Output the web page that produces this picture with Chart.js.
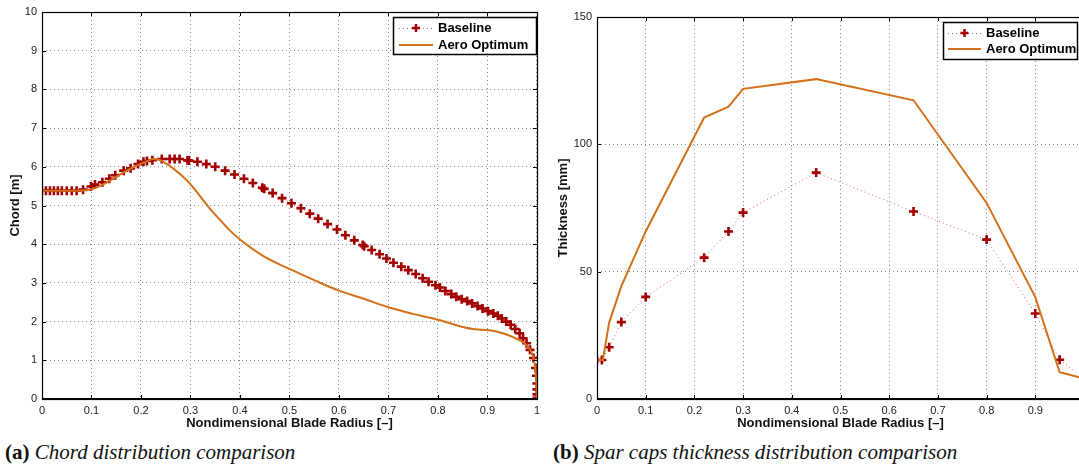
<!DOCTYPE html>
<html>
<head>
<meta charset="utf-8">
<script src="https://cdn.jsdelivr.net/npm/chart.js@4.4.1/dist/chart.umd.min.js"></script>
<style>
  html, body { margin:0; padding:0; background:#fff; width:1079px; height:467px; overflow:hidden; position:relative; }
  canvas { position:absolute; }
  #c1 { left:0; top:0; }
  #c2 { left:545px; top:0; }
  .cap { position:absolute; top:440px; font-family:"Liberation Serif","DejaVu Serif",serif; font-size:21px; color:#111; white-space:nowrap; }
  .cap b { font-weight:bold; }
  .cap i { font-style:italic; }
</style>
</head>
<body>
<canvas id="c1" width="545" height="440"></canvas>
<canvas id="c2" width="560" height="440"></canvas>
<div class="cap" style="left:5px;"><b>(a)</b> <i>Chord distribution comparison</i></div>
<div class="cap" style="left:553px;"><b>(b)</b> <i>Spar caps thickness distribution comparison</i></div>
<script>
// ---------- DATA ----------
const seriesNames = ["Baseline", "Aero Optimum"];

// (a) Chord distribution
const chordBaseX = [0,0.008,0.016,0.024,0.032,0.04,0.05,0.06,0.07,0.083,0.099,0.107,0.122,0.136,0.148,0.165,0.179,0.194,0.205,0.212,0.223,0.242,0.258,0.268,0.278,0.294,0.297,0.314,0.332,0.35,0.37,0.389,0.408,0.426,0.445,0.449,0.466,0.485,0.504,0.523,0.541,0.558,0.577,0.596,0.613,0.631,0.648,0.651,0.666,0.682,0.696,0.71,0.726,0.74,0.755,0.769,0.781,0.795,0.804,0.815,0.827,0.837,0.848,0.859,0.869,0.88,0.89,0.901,0.912,0.921,0.929,0.938,0.947,0.956,0.965,0.972,0.979,0.986,0.993,0.997,0.999,1.0,1.0,1.0,1.0];
const chordBaseY = [5.38,5.38,5.38,5.38,5.38,5.38,5.38,5.38,5.38,5.41,5.49,5.54,5.6,5.69,5.78,5.9,5.96,6.07,6.13,6.15,6.17,6.2,6.2,6.2,6.2,6.17,6.16,6.13,6.07,6.0,5.9,5.8,5.69,5.58,5.46,5.43,5.32,5.19,5.06,4.93,4.79,4.66,4.52,4.38,4.23,4.1,3.98,3.95,3.85,3.74,3.63,3.52,3.42,3.33,3.23,3.12,3.03,2.94,2.88,2.79,2.71,2.64,2.58,2.53,2.47,2.4,2.34,2.27,2.21,2.15,2.08,2.0,1.92,1.81,1.7,1.57,1.44,1.27,1.06,0.8,0.6,0.4,0.25,0.12,0.03];
const chordAeroX = [0,0.05,0.08,0.1,0.12,0.14,0.16,0.18,0.2,0.215,0.225,0.235,0.245,0.255,0.265,0.28,0.3,0.32,0.343,0.364,0.38,0.4,0.45,0.5,0.55,0.6,0.65,0.7,0.75,0.8,0.85,0.875,0.9,0.92,0.94,0.96,0.975,0.985,0.992,0.996,0.999,1.0];
const chordAeroY = [5.38,5.38,5.385,5.42,5.52,5.66,5.82,5.96,6.08,6.16,6.2,6.19,6.13,6.05,5.96,5.8,5.55,5.23,4.86,4.57,4.35,4.12,3.67,3.36,3.07,2.8,2.59,2.37,2.2,2.05,1.86,1.8,1.78,1.74,1.66,1.55,1.44,1.3,1.1,0.85,0.4,0];

// (b) Spar caps thickness distribution
const sparBaseX = [0,0.01,0.025,0.05,0.1,0.22,0.27,0.3,0.45,0.65,0.8,0.9,0.95,1.0];
const sparBaseY = [15.3,15.3,20.3,30.2,40.1,55.5,65.8,73.2,88.9,73.6,62.6,33.6,15.4,8];
const sparAeroX = [0,0.012,0.025,0.05,0.1,0.22,0.27,0.3,0.45,0.65,0.8,0.9,0.95,1.0];
const sparAeroY = [15.3,15.3,30,44.3,65.8,110.5,114.8,121.8,125.6,117.3,77,40,10.5,8];

// ---------- STYLE ----------
const BASE_MARK = "#a30000";
const BASE_LINE = "rgba(215,80,80,0.9)";
const AERO = "#d5701a";
const SANS = "'Liberation Sans', Arial, Helvetica, sans-serif";

function pts(xs, ys) { return xs.map((x, i) => ({ x: x, y: ys[i] })); }
function fmt(v) { return String(Math.round(v * 100) / 100); }

const framePlugin = {
  id: 'frame',
  afterDraw(chart, args, opts) {
    const ctx = chart.ctx, a = chart.chartArea;
    const xs = chart.scales.x, ys = chart.scales.y;
    ctx.save();
    ctx.strokeStyle = '#000';
    ctx.lineWidth = 1;
    ctx.beginPath();
    xs.ticks.forEach(t => {
      const px = Math.round(xs.getPixelForValue(t.value)) + 0.5;
      ctx.moveTo(px, a.bottom); ctx.lineTo(px, a.bottom - 4);
      ctx.moveTo(px, a.top); ctx.lineTo(px, a.top + 4);
    });
    ys.ticks.forEach(t => {
      const py = Math.round(ys.getPixelForValue(t.value)) + 0.5;
      ctx.moveTo(a.left, py); ctx.lineTo(a.left + 4, py);
      ctx.moveTo(a.right, py); ctx.lineTo(a.right - 4, py);
    });
    ctx.stroke();
    ctx.lineWidth = 1.2;
    ctx.strokeRect(Math.round(a.left) + 0.5, Math.round(a.top) + 0.5, Math.round(a.right - a.left), Math.round(a.bottom - a.top));
    ctx.lineWidth = 2;
    ctx.beginPath();
    ctx.moveTo(a.left, Math.round(a.bottom)); ctx.lineTo(a.right, Math.round(a.bottom));
    ctx.stroke();

    const L = opts.legend;
    if (L) {
      ctx.fillStyle = '#fff';
      ctx.fillRect(L.x, L.y, L.w, L.h);
      ctx.lineWidth = 1.5;
      ctx.strokeStyle = '#000';
      ctx.strokeRect(L.x + 0.5, L.y + 0.5, L.w, L.h);
      const ds = chart.data.datasets;
      const row1 = L.y + L.r1, row2 = L.y + L.r2;
      const sx0 = L.x + L.s0, sx1 = L.x + L.s1, tx = L.x + L.t;
      ctx.save();
      ctx.strokeStyle = BASE_LINE; ctx.lineWidth = 1; ctx.setLineDash([1, 3]);
      ctx.beginPath(); ctx.moveTo(sx0, row1 + 0.5); ctx.lineTo(sx1, row1 + 0.5); ctx.stroke();
      ctx.restore();
      const mx = (sx0 + sx1) / 2;
      ctx.strokeStyle = BASE_MARK; ctx.lineWidth = 2.5;
      ctx.beginPath(); ctx.moveTo(mx - 4, row1); ctx.lineTo(mx + 4, row1); ctx.moveTo(mx, row1 - 4); ctx.lineTo(mx, row1 + 4); ctx.stroke();
      ctx.strokeStyle = AERO; ctx.lineWidth = 2;
      ctx.beginPath(); ctx.moveTo(sx0, row2); ctx.lineTo(sx1, row2); ctx.stroke();
      ctx.fillStyle = '#000';
      ctx.font = 'bold 13px ' + SANS;
      ctx.textBaseline = 'middle';
      ctx.textAlign = 'left';
      ctx.fillText(ds[0].label, tx, row1 + 0.5);
      ctx.fillText(ds[1].label, tx, row2 + 0.5);
    }
    ctx.restore();
  }
};

function makeChart(id, cfg) {
  const tickFont = { family: SANS, size: 11 };
  const titleFont = { family: SANS, size: 13, weight: 'bold' };
  return new Chart(document.getElementById(id), {
    type: 'line',
    data: {
      datasets: [
        {
          label: seriesNames[0],
          data: pts(cfg.bx, cfg.by),
          borderColor: BASE_LINE,
          borderWidth: 1,
          borderDash: [1, 3],
          pointStyle: 'cross',
          pointRadius: 4.5,
          pointBorderWidth: 2.6,
          pointBorderColor: BASE_MARK,
          pointBackgroundColor: BASE_MARK,
          tension: 0,
          order: 1
        },
        {
          label: seriesNames[1],
          data: pts(cfg.ax, cfg.ay),
          borderColor: AERO,
          borderWidth: 2,
          pointRadius: 0,
          cubicInterpolationMode: cfg.smooth ? 'monotone' : 'default',
          tension: 0,
          order: 0
        }
      ]
    },
    options: {
      responsive: false,
      animation: false,
      devicePixelRatio: 1,
      layout: { padding: cfg.pad },
      plugins: {
        legend: { display: false },
        tooltip: { enabled: false },
        frame: { legend: cfg.legend }
      },
      scales: {
        x: {
          type: 'linear', min: 0, max: 1,
          grid: { color: '#8a8a8a', lineWidth: 1, drawTicks: false },
          border: { display: false, dash: [1, 3] },
          ticks: { stepSize: 0.1, padding: 5, color: '#222', font: tickFont, maxRotation: 0, autoSkip: false, callback: v => fmt(v) },
          title: { display: true, text: 'Nondimensional Blade Radius [\u2013]', color: '#111', font: titleFont, padding: { top: 0, bottom: 9 } },
          afterFit: s => { s.height = 41; }
        },
        y: {
          type: 'linear', min: cfg.ymin, max: cfg.ymax,
          grid: { color: '#8a8a8a', lineWidth: 1, drawTicks: false },
          border: { display: false, dash: [1, 3] },
          ticks: { stepSize: cfg.ystep, padding: 5, color: '#222', font: tickFont, callback: v => fmt(v) },
          title: { display: true, text: cfg.ytitle, color: '#111', font: titleFont, padding: { top: cfg.ytpad, bottom: 0 } },
          afterFit: s => { s.width = cfg.yw; }
        }
      }
    },
    plugins: [framePlugin]
  });
}

makeChart('c1', {
  bx: chordBaseX, by: chordBaseY, ax: chordAeroX, ay: chordAeroY, smooth: true,
  ymin: 0, ymax: 10, ystep: 1, ytitle: 'Chord [m]', ytpad: 8, yw: 42,
  pad: { left: 0, right: 8, top: 12, bottom: 0 },
  legend: { x: 393, y: 17, w: 143, h: 37, r1: 11, r2: 28, s0: 6, s1: 40, t: 45 }
});

makeChart('c2', {
  bx: sparBaseX, by: sparBaseY, ax: sparAeroX, ay: sparAeroY, smooth: false,
  ymin: 0, ymax: 150, ystep: 50, ytitle: 'Thickness [mm]', ytpad: 11, yw: 52,
  pad: { left: 0, right: 21, top: 17, bottom: 0 },
  legend: { x: 398, y: 22, w: 134, h: 37, r1: 11, r2: 27, s0: 5, s1: 38, t: 43 }
});
</script>
</body>
</html>
